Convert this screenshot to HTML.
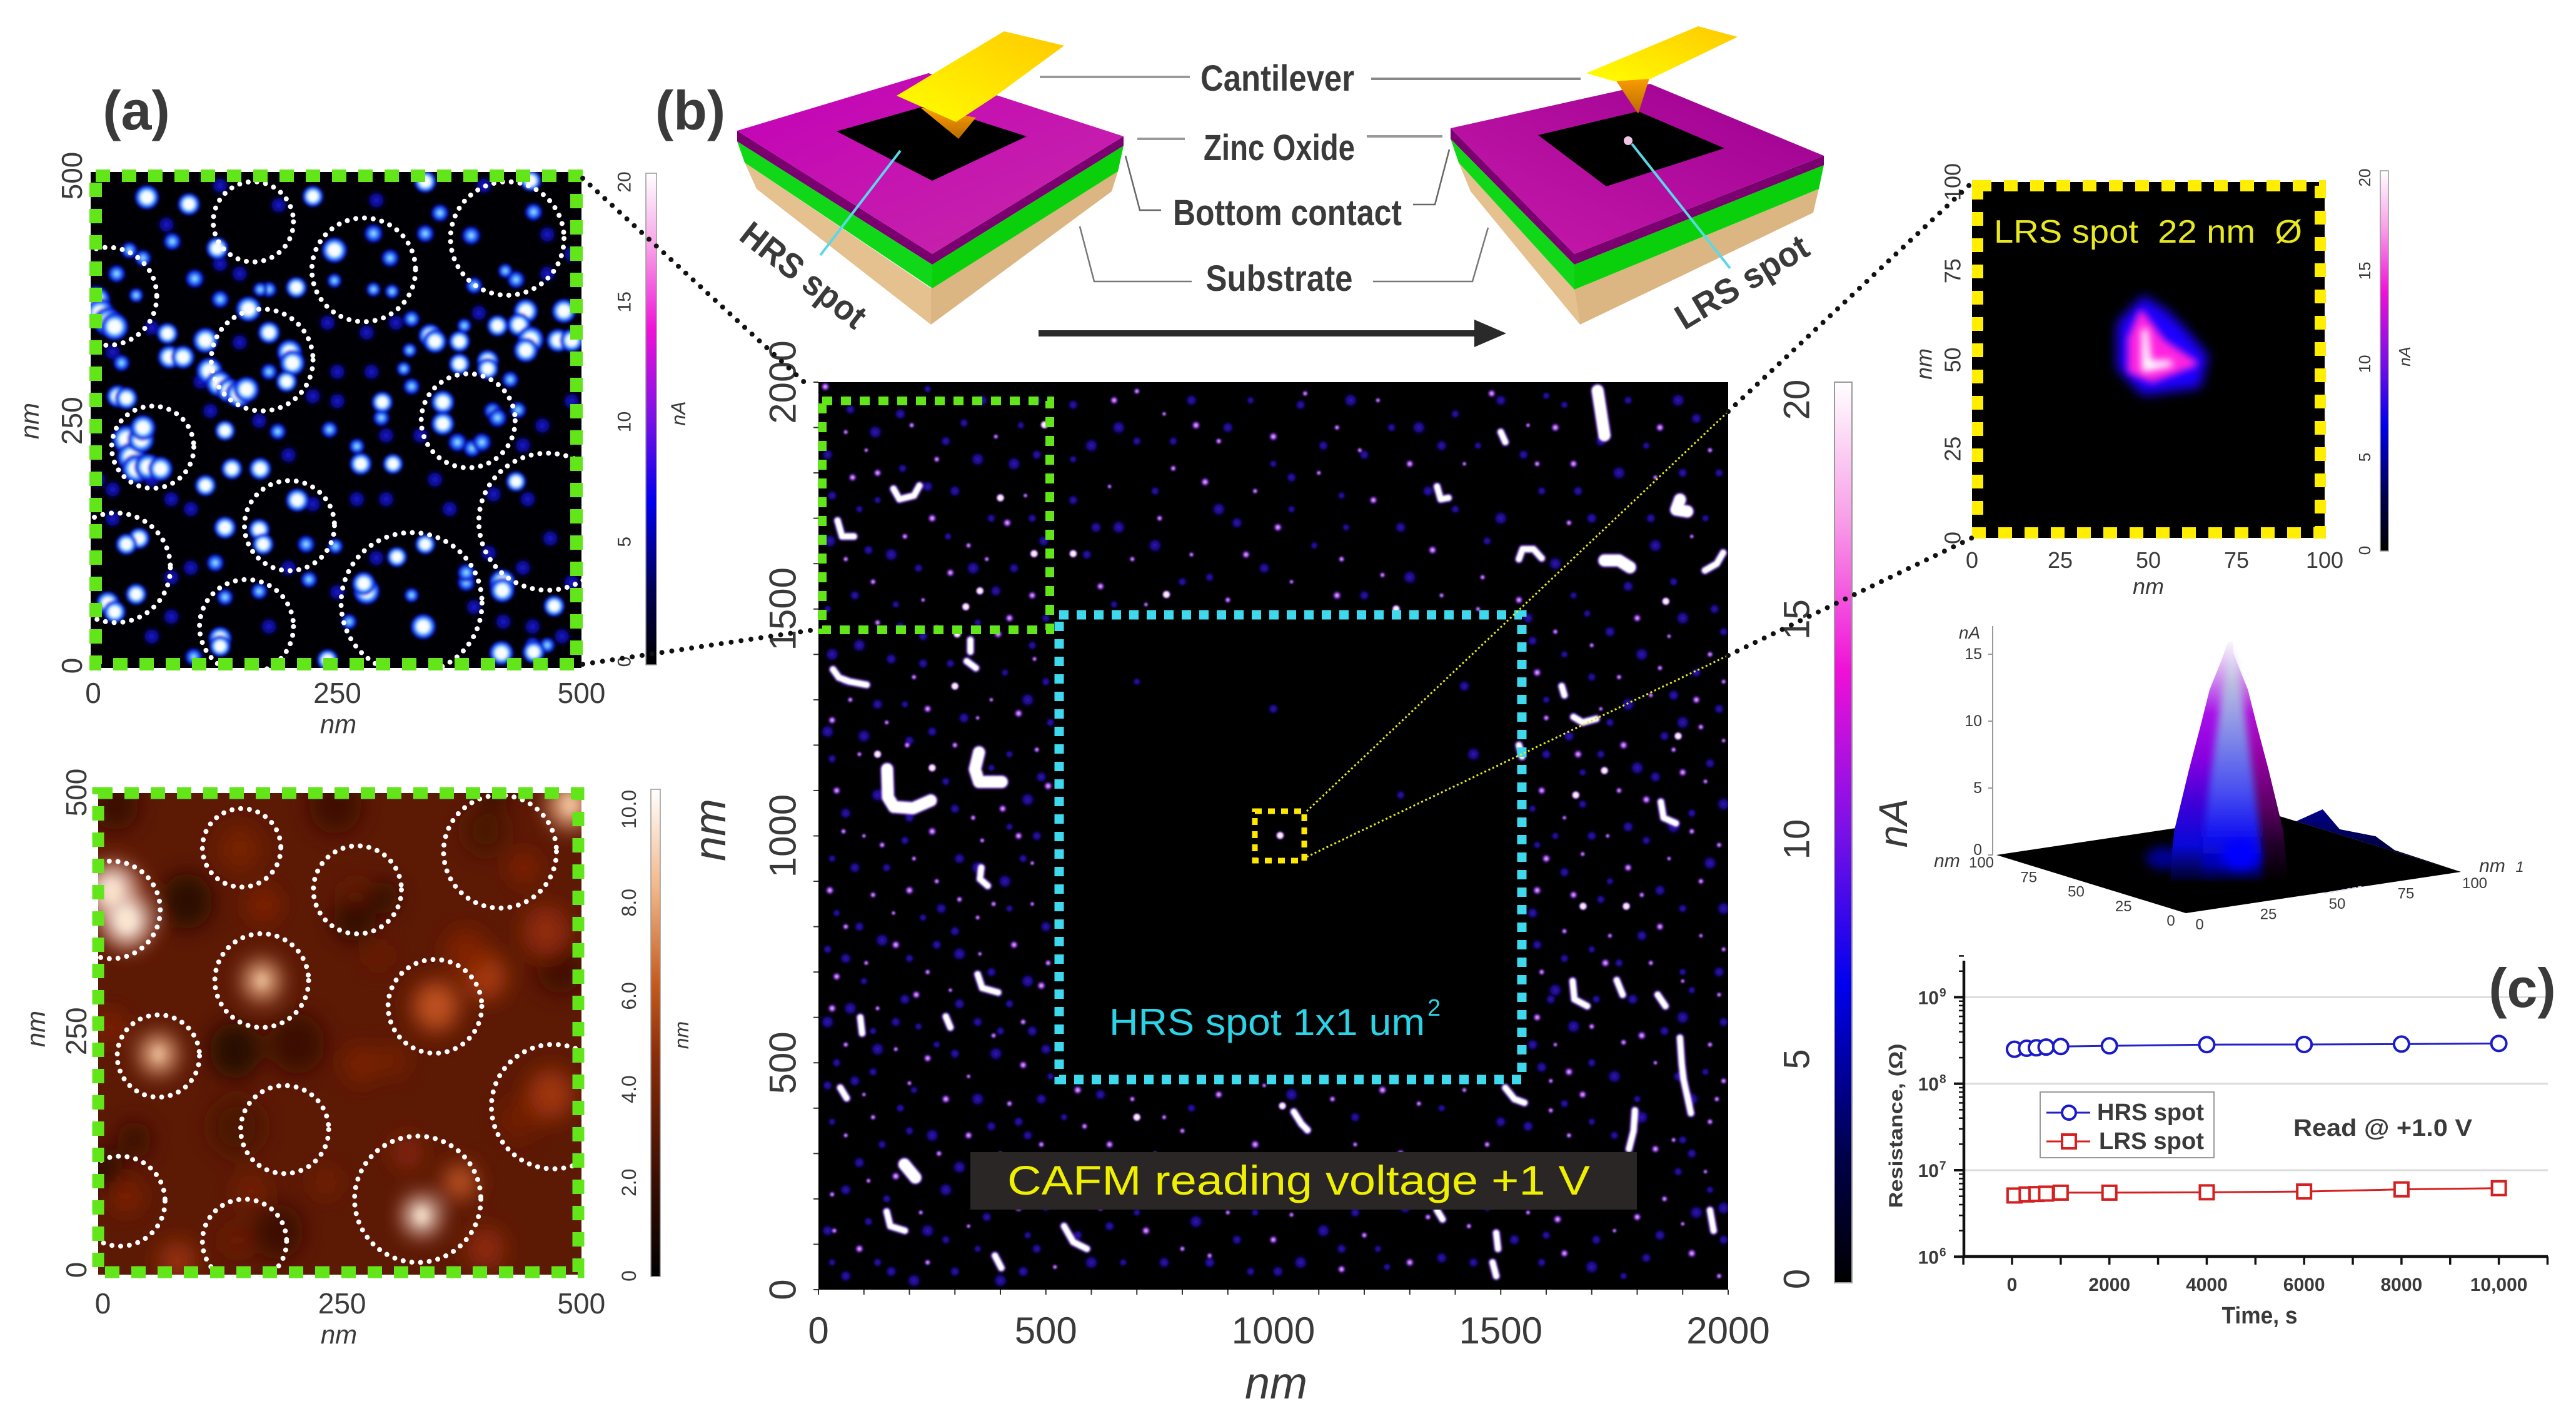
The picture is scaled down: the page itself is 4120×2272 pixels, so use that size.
<!DOCTYPE html>
<html lang="en">
<head>
<meta charset="utf-8">
<title>CAFM resistive switching figure</title>
<style>
html,body{margin:0;padding:0;background:#fff;}
body{width:4120px;height:2272px;overflow:hidden;}
svg{display:block;}
text{font-family:"Liberation Sans",sans-serif;fill:#3a3a3a;}
.it{font-style:italic;}
.bd{font-weight:bold;}
</style>
</head>
<body>
<svg id="figure" xmlns="http://www.w3.org/2000/svg" width="4120" height="2272" viewBox="0 0 4120 2272">
<defs>
<radialGradient id="spotHi"><stop offset="0" stop-color="#fff"/><stop offset=".4" stop-color="#f4fbff"/><stop offset=".58" stop-color="#48a4ff"/><stop offset=".8" stop-color="#1020e8"/><stop offset="1" stop-color="#000070" stop-opacity="0"/></radialGradient>
<radialGradient id="spotMid"><stop offset="0" stop-color="#c8ecff"/><stop offset=".32" stop-color="#3c98ff"/><stop offset=".68" stop-color="#0d18d8"/><stop offset="1" stop-color="#000060" stop-opacity="0"/></radialGradient>
<radialGradient id="spotLo"><stop offset="0" stop-color="#1818cc"/><stop offset=".6" stop-color="#0a0a88"/><stop offset="1" stop-color="#000030" stop-opacity="0"/></radialGradient>
<radialGradient id="speckHi"><stop offset="0" stop-color="#fff"/><stop offset=".55" stop-color="#fde8fd"/><stop offset=".8" stop-color="#a040e8"/><stop offset="1" stop-color="#2000a0" stop-opacity="0"/></radialGradient>
<radialGradient id="speckMid"><stop offset="0" stop-color="#fbd8fb"/><stop offset=".45" stop-color="#a040e0"/><stop offset="1" stop-color="#1800a0" stop-opacity="0"/></radialGradient>
<radialGradient id="speckLo"><stop offset="0" stop-color="#3416b8"/><stop offset=".6" stop-color="#160878"/><stop offset="1" stop-color="#0a0050" stop-opacity="0"/></radialGradient>
<linearGradient id="cbarCurrent" x1="0" y1="1" x2="0" y2="0"><stop offset="0" stop-color="#000"/><stop offset=".14" stop-color="#00004a"/><stop offset=".33" stop-color="#0000ee"/><stop offset=".5" stop-color="#7a10e8"/><stop offset=".68" stop-color="#f010d8"/><stop offset=".85" stop-color="#f8a0e8"/><stop offset="1" stop-color="#fff"/></linearGradient>
<linearGradient id="cbarTopo" x1="0" y1="1" x2="0" y2="0"><stop offset="0" stop-color="#000"/><stop offset=".2" stop-color="#3a0e02"/><stop offset=".45" stop-color="#8a2c08"/><stop offset=".6" stop-color="#c55a1c"/><stop offset=".8" stop-color="#f2b88a"/><stop offset="1" stop-color="#fff"/></linearGradient>
<linearGradient id="magentaL" x1="0" y1="0" x2="1" y2="1"><stop offset="0" stop-color="#c400b8"/><stop offset="1" stop-color="#c62aa8"/></linearGradient>
<linearGradient id="magentaR" x1="1" y1="0" x2="0" y2="1"><stop offset="0" stop-color="#9c0090"/><stop offset="1" stop-color="#c81aac"/></linearGradient>
<linearGradient id="lever" x1="0" y1="1" x2="1" y2="0"><stop offset="0" stop-color="#ffff00"/><stop offset="1" stop-color="#ffc800"/></linearGradient>
<linearGradient id="tip" x1="0" y1="0" x2="0" y2="1"><stop offset="0" stop-color="#ffa000"/><stop offset="1" stop-color="#b86a00"/></linearGradient>
<linearGradient id="peakLeft" x1="0" y1="0" x2="0" y2="1"><stop offset="0" stop-color="#fbf6fd"/><stop offset=".12" stop-color="#d8a8f0"/><stop offset=".3" stop-color="#a810e8"/><stop offset=".48" stop-color="#8a00e0"/><stop offset=".68" stop-color="#3c00d8"/><stop offset=".85" stop-color="#0808d8"/><stop offset="1" stop-color="#000020"/></linearGradient>
<linearGradient id="peakRight" x1="0" y1="0" x2="0" y2="1"><stop offset="0" stop-color="#fbf6fd"/><stop offset=".12" stop-color="#d8a8f0"/><stop offset=".3" stop-color="#b010d8"/><stop offset=".5" stop-color="#90009c"/><stop offset=".7" stop-color="#580060"/><stop offset=".85" stop-color="#200028"/><stop offset="1" stop-color="#000"/></linearGradient>
<linearGradient id="peakCore" x1="0" y1="0" x2="0" y2="1"><stop offset="0" stop-color="#fcfaff"/><stop offset=".18" stop-color="#b8bce0"/><stop offset=".4" stop-color="#8088e8"/><stop offset=".62" stop-color="#4a50f0"/><stop offset=".82" stop-color="#1010f0"/><stop offset=".93" stop-color="#0000b0"/><stop offset="1" stop-color="#000020"/></linearGradient>
<linearGradient id="bumpFill" x1="0" y1="0" x2="0" y2="1"><stop offset="0" stop-color="#00008c"/><stop offset="1" stop-color="#000010"/></linearGradient>
<filter id="blurA" x="-5%" y="-5%" width="110%" height="110%"><feGaussianBlur stdDeviation="2"/></filter>
<filter id="blurTopo" x="-10%" y="-10%" width="120%" height="120%"><feGaussianBlur stdDeviation="17"/></filter>
<filter id="blurB" x="-5%" y="-5%" width="110%" height="110%"><feGaussianBlur stdDeviation="1.2"/></filter>
<filter id="blurLrs1" x="-50%" y="-50%" width="200%" height="200%"><feGaussianBlur stdDeviation="9"/></filter>
<filter id="blurLrs2" x="-50%" y="-50%" width="200%" height="200%"><feGaussianBlur stdDeviation="6"/></filter>
<filter id="blurPeak" x="-50%" y="-50%" width="200%" height="200%"><feGaussianBlur stdDeviation="8"/></filter>
<filter id="blurCore" x="-30%" y="-5%" width="160%" height="110%"><feGaussianBlur stdDeviation="6 2"/></filter>
<clipPath id="clipA"><rect x="145" y="275" width="785" height="793"/></clipPath>
<clipPath id="clipT"><rect x="157" y="1268" width="773" height="770"/></clipPath>
<clipPath id="clipB"><rect x="1309" y="611" width="1455" height="1451"/></clipPath>
<clipPath id="clipL"><rect x="3154" y="291" width="564" height="569"/></clipPath>
</defs>

<g>
  <rect x="145" y="275" width="785" height="793" fill="#000004"/>
  <g id="aSpots" clip-path="url(#clipA)" filter="url(#blurA)"></g>
  <g id="aCircles" clip-path="url(#clipA)"></g>
  <rect x="153" y="281" width="769" height="781" fill="none" stroke="#62e61a" stroke-width="20" stroke-dasharray="23 19"/>
  <g id="aAxes"></g>
  <rect x="1033" y="277" width="17" height="786" fill="url(#cbarCurrent)" stroke="#999" stroke-width="1.5"/>
</g>

<g>
  <rect id="topoBase" x="157" y="1268" width="773" height="770" fill="#5c1904"/>
  <g id="tBlobs" clip-path="url(#clipT)"><g id="tBlobsInner" filter="url(#blurTopo)"></g></g>
  <g id="tCircles" clip-path="url(#clipT)"></g>
  <rect x="157" y="1268" width="768" height="766" fill="none" stroke="#62e61a" stroke-width="19" stroke-dasharray="23 19"/>
  <g id="tAxes"></g>
  <rect x="1041" y="1262" width="15" height="779" fill="url(#cbarTopo)" stroke="#999" stroke-width="1.5"/>
</g>

<g>
  <g>
    <polygon points="1191,260 1489,461 1489,519 1210,302" fill="#e4c18f"/>
    <polygon points="1489,461 1489,519 1778,306 1788,274" fill="#dcb682"/>
    <polygon points="1179,226 1491,423 1491,461 1191,260" fill="#10d818"/>
    <polygon points="1491,423 1797,233 1788,274 1491,461" fill="#0ad00c"/>
    <polygon points="1179,209 1491,406 1491,423 1179,226" fill="#7a0070"/>
    <polygon points="1491,406 1797,218 1797,233 1491,423" fill="#7a0070"/>
    <polygon points="1179,209 1485,117 1797,218 1491,406" fill="url(#magentaL)"/>
    <polygon points="1338,210 1485,168 1642,218 1491,289" fill="#000"/>
    <polygon points="1472,172 1561,188 1533,222" fill="url(#tip)"/>
    <polygon points="1606,50 1702,73 1593,153 1529,195 1434,153" fill="url(#lever)"/>
    <line x1="1440" y1="241" x2="1312" y2="408" stroke="#5ad8ea" stroke-width="4"/>
    <text class="bd" x="1285" y="459" font-size="56" text-anchor="middle" textLength="238" lengthAdjust="spacingAndGlyphs" transform="rotate(38 1285 440)">HRS spot</text>
  </g>
  <g>
    <polygon points="2333,260 2518,463 2527,519 2352,306" fill="#e4c18f"/>
    <polygon points="2518,463 2527,519 2900,340 2909,302" fill="#dcb682"/>
    <polygon points="2320,222 2518,423 2518,463 2333,260" fill="#10d818"/>
    <polygon points="2518,423 2917,264 2909,302 2518,463" fill="#0ad00c"/>
    <polygon points="2320,205 2518,406 2518,423 2320,222" fill="#7a0070"/>
    <polygon points="2518,406 2917,249 2917,264 2518,423" fill="#7a0070"/>
    <polygon points="2320,205 2639,134 2917,249 2518,406" fill="url(#magentaR)"/>
    <polygon points="2460,216 2620,178 2758,237 2569,298" fill="#000"/>
    <polygon points="2582,125 2639,122 2620,182" fill="url(#tip)"/>
    <polygon points="2716,42 2779,59 2640,126 2582,130 2537,117" fill="url(#lever)"/>
    <circle cx="2604" cy="225" r="7" fill="#f0c4e6"/>
    <line x1="2610" y1="230" x2="2767" y2="429" stroke="#5ad8ea" stroke-width="4"/>
    <text class="bd" x="2786" y="470" font-size="56" text-anchor="middle" textLength="238" lengthAdjust="spacingAndGlyphs" transform="rotate(-31 2786 451)">LRS spot</text>
  </g>
  <g>
    <text class="bd" x="2043" y="145" font-size="58" text-anchor="middle" textLength="246" lengthAdjust="spacingAndGlyphs">Cantilever</text>
    <text class="bd" x="2046" y="256" font-size="58" text-anchor="middle" textLength="242" lengthAdjust="spacingAndGlyphs">Zinc Oxide</text>
    <text class="bd" x="2059" y="360" font-size="58" text-anchor="middle" textLength="366" lengthAdjust="spacingAndGlyphs">Bottom contact</text>
    <text class="bd" x="2046" y="465" font-size="58" text-anchor="middle" textLength="235" lengthAdjust="spacingAndGlyphs">Substrate</text>
  </g>
  <g fill="none">
    <path d="M1663 123H1903" stroke="#999" stroke-width="4"/>
    <path d="M2193 126H2528" stroke="#888" stroke-width="4"/>
    <path d="M1819 222H1895" stroke="#999" stroke-width="4"/>
    <path d="M2186 218H2307" stroke="#999" stroke-width="4"/>
    <path d="M1800 249L1823 336H1857" stroke="#666" stroke-width="2.5"/>
    <path d="M2318 239L2295 327H2260" stroke="#666" stroke-width="2.5"/>
    <path d="M1727 362L1750 450H1906" stroke="#777" stroke-width="2.5"/>
    <path d="M2380 364L2355 450H2196" stroke="#777" stroke-width="2.5"/>
  </g>
  <path d="M1661 533H2365" stroke="#2a2a2a" stroke-width="10"/>
  <polygon points="2358,511 2409,533 2358,555" fill="#2a2a2a"/>
</g>

<g>
  <rect x="1309" y="611" width="1455" height="1451" fill="#000"/>
  <g id="bSpecks" clip-path="url(#clipB)" filter="url(#blurB)"></g>
  <rect x="1315" y="641" width="364" height="366" fill="none" stroke="#62e61a" stroke-width="14" stroke-dasharray="16 14"/>
  <rect x="1694" y="983" width="740" height="743" fill="none" stroke="#3fd9ee" stroke-width="15" stroke-dasharray="15 13"/>
  <rect x="2007" y="1297" width="79" height="79" fill="none" stroke="#ffe800" stroke-width="9" stroke-dasharray="11 10"/>
  <line x1="2090" y1="1297" x2="2764" y2="658" stroke="#e8e820" stroke-width="3" stroke-dasharray="3 4"/>
  <line x1="2090" y1="1370" x2="2764" y2="1048" stroke="#e8e820" stroke-width="3" stroke-dasharray="3 4"/>
  <text x="1774" y="1655" font-size="60" style="fill:#2ad3e6" textLength="505" lengthAdjust="spacingAndGlyphs">HRS spot 1x1 um</text>
  <text x="2283" y="1624" font-size="38" style="fill:#2ad3e6">2</text>
  <rect x="1552" y="1842" width="1066" height="92" fill="#2b2626"/>
  <text x="1611" y="1910" font-size="66" style="fill:#eef000" textLength="932" lengthAdjust="spacingAndGlyphs">CAFM reading voltage +1 V</text>
  <g id="bAxes"></g>
  <rect x="2934" y="611" width="28" height="1440" fill="url(#cbarCurrent)" stroke="#999" stroke-width="2"/>
</g>

<g>
  <rect x="3154" y="291" width="564" height="569" fill="#000"/>
  <g id="lSpot" clip-path="url(#clipL)"></g>
  <rect x="3163" y="297" width="548" height="555" fill="none" stroke="#ffee00" stroke-width="18" stroke-dasharray="22 20"/>
  <text x="3189" y="388" font-size="52" style="fill:#e8e820" textLength="493" lengthAdjust="spacingAndGlyphs">LRS spot&#160;&#160;22 nm&#160;&#160;Ø</text>
  <g id="lAxes"></g>
  <rect x="3807" y="273" width="13" height="608" fill="url(#cbarCurrent)" stroke="#999" stroke-width="1.5"/>
</g>

<g id="surface"></g>

<g id="chartC"></g>

<g stroke="#111" stroke-width="8" stroke-linecap="round" stroke-dasharray="0 16" fill="none">
  <line x1="932" y1="285" x2="1296" y2="620"/>
  <line x1="932" y1="1062" x2="1309" y2="1006"/>
  <line x1="2764" y1="658" x2="3154" y2="292"/>
  <line x1="2764" y1="1048" x2="3154" y2="860"/>
</g>

<text class="bd" x="218" y="207" font-size="88" text-anchor="middle">(a)</text>
<text class="bd" x="1104" y="207" font-size="88" text-anchor="middle">(b)</text>
<text class="bd" x="4034" y="1610" font-size="88" text-anchor="middle">(c)</text>
</svg>

<script>
// ---------- panel (a) current map: [x nm, y nm, current nA] ----------
const aBrightSpots=[[55,478,16],[98,471,14],[225,479,13],[340,494,14],[448,495,13],[247,424,17],[127,426,14],[159,364,17],[115,332,17],[76,339,13],[78,315,15],[92,315,15],[443,362,16],[482,362,16],[414,347,13],[436,348,15],[448,333,18],[443,322,16],[476,332,15],[490,332,15],[345,337,15],[350,331,15],[375,331,13],[375,308,13],[404,311,14],[404,303,13],[3,373,20],[7,360,20],[15,351,20],[22,346,19],[201,320,17],[204,309,17],[119,301,18],[129,288,18],[139,281,16],[149,277,18],[157,282,17],[180,340,14],[198,290,13],[358,269,15],[358,247,15],[296,269,13],[25,275,14],[34,273,14],[34,231,20],[39,213,20],[44,201,20],[56,203,18],[69,201,16],[49,231,18],[51,243,17],[142,201,13],[171,201,14],[274,206,14],[307,206,12],[209,169,15],[135,141,14],[170,139,13],[174,124,13],[47,130,13],[34,124,13],[311,111,12],[340,124,12],[419,85,18],[419,77,16],[280,76,18],[277,84,15],[44,73,13],[15,64,15],[22,55,14],[338,40,17],[418,13,16],[451,14,14],[472,61,13],[130,28,15],[130,20,13],[240,6,13],[115,184,13],[433,188,12],[208,386,13],[135,240,12]];
const aMidSpots=[[355,462,10],[340,441,10],[287,441,11],[304,416,10],[451,463,10],[433,394,10],[390,388,9],[387,439,11],[81,433,10],[37,424,9],[51,416,9],[24,400,10],[104,395,11],[130,374,10],[326,354,9],[180,384,8],[180,300,9],[427,292,9],[326,285,9],[295,253,9],[409,260,10],[414,253,11],[435,261,9],[373,228,11],[388,222,10],[398,228,11],[189,239,9],[242,241,9],[270,224,8],[218,124,10],[248,122,8],[382,85,10],[382,95,10],[125,105,10],[221,88,9],[170,76,9],[135,70,9],[262,45,8],[103,9,10],[326,72,7],[450,21,8],[465,21,8],[287,384,7],[306,382,7],[247,393,7],[422,403,7],[44,378,7],[171,384,7],[318,303,7],[324,322,7],[380,347,7],[29,309,9]];
const aDimSpots=[[75,450],[130,490],[190,470],[290,475],[400,490],[150,400],[130,410],[240,350],[280,340],[310,350],[395,360],[465,400],[490,420],[465,440],[60,345],[110,290],[150,330],[20,320],[250,300],[285,300],[225,275],[250,270],[335,235],[300,235],[225,165],[270,170],[300,170],[410,175],[365,160],[445,170],[468,130],[100,160],[60,190],[80,170],[20,180],[5,190],[20,150],[80,90],[100,100],[80,50],[60,30],[180,40],[200,100],[250,75],[290,110],[390,60],[420,45],[450,40],[480,30],[490,85],[405,115],[440,100],[350,190],[460,245],[490,270],[440,225],[120,260],[170,250],[200,215]];
// ---------- panel (a) grain outlines: [x nm, y nm, radius nm] ----------
const aCircleData=[[164,453,41],[277,404,53],[424,436,58],[15,377,50],[173,312,52],[384,250,48],[61,223,42],[201,143,46],[465,147,70],[326,64,72],[157,40,48],[23,100,56]];
const xTicks500=[0,250,500];
const yTicks500=[0,250,500];
const cbarCurrentTicks=[0,5,10,15,20];

// ---------- topography: [x nm, y nm, radius nm, height nm] ----------
const topoBlobs=[[88,386,24,1.5],[138,230,24,1.3],[203,237,26,2],[263,368,20,1.7],[293,390,14,1.7],[33,136,16,2],[13,487,22,2],[243,487,25,2.2],[478,316,22,2.2],[183,40,24,2.1],[408,500,14,2],[0,105,18,1.6],[400,460,20,2.4],[140,150,25,2.5],
[348,276,24,6.2],[373,92,16,6.4],[468,184,22,5.2],[463,355,22,4.8],[143,441,20,4],[168,382,15,4.4],[263,395,10,3.4],[25,77,14,4.4],[140,31,12,3.7],[78,9,18,5],[400,307,20,5.4],[440,421,14,4.4],[270,215,16,4.2],[303,219,13,4],[233,92,12,4],[318,123,14,4.6],[288,329,10,3.7],[155,83,14,4],[435,158,18,3.8],[400,22,18,4.8],[8,254,14,4.4],[380,333,20,4.4],
[10,395,24,10],[25,366,22,10],[58,226,17,8.6],[166,303,17,8.6],[333,57,16,10],[488,487,20,8.6]];
const cbarTopoTicks=["0","2.0","4.0","6.0","8.0","10.0"];
const cbarTopoValues=[0,2,4,6,8,10];
const tCircleData=[[145,442,41],[266,398,46],[415,438,59],[9,377,51],[166,303,49],[347,276,49],[58,224,43],[190,147,46],[471,171,65],[329,74,66],[148,30,44],[18,72,47]];

// ---------- panel (b) large map: white clusters [[x nm, y nm], ...] with stroke class ----------
const bThickClusters=[
[[151,1147],[153,1085],[166,1064],[208,1061],[247,1078]],
[[353,1184],[344,1147],[353,1119],[403,1119]],
[[1713,1981],[1720,1936],[1728,1883]],
[[1894,1741],[1886,1719],[1910,1715]],
[[1728,1607],[1760,1607],[1784,1592]],
[[189,276],[213,247]]
];
const bThinClusters=[
[[32,1367],[45,1349],[69,1340],[106,1333]],
[[334,1432],[334,1406]],
[[326,1385],[346,1370]],
[[1540,1610],[1548,1632],[1572,1632],[1590,1612]],
[[1949,1585],[1975,1600],[1989,1624]],
[[1660,1262],[1680,1250],[1710,1258]],
[[1634,1330],[1640,1310]],
[[1540,1200],[1547,1175]],
[[1658,680],[1662,640],[1690,625]],
[[1894,555],[1898,497],[1902,463],[1918,389]],
[[1510,445],[1530,420],[1552,412]],
[[1795,395],[1792,350],[1782,310]],
[[1852,1075],[1858,1040],[1885,1028]],
[[1960,175],[1968,130]],
[[1490,125],[1494,90]],
[[1482,60],[1490,30]],
[[150,172],[158,140],[190,130]],
[[540,140],[560,105],[590,90]],
[[388,75],[402,48]],
[[165,1765],[178,1742],[210,1750],[222,1772]],
[[42,1695],[52,1660],[78,1660]],
[[358,930],[355,905],[372,890]],
[[350,695],[360,665],[395,655]],
[[92,600],[96,565]],
[[280,602],[290,578]],
[[48,445],[62,422]],
[[1755,682],[1768,650]],
[[1845,650],[1862,625]],
[[1045,392],[1062,365],[1075,352]],
[[1360,1770],[1368,1742],[1385,1745]],
[[1500,1890],[1510,1868]],
[[1360,175],[1372,155]]
];
const bBrightSpecks=[[1015,1001],[1728,1144],[130,1180],[250,1150],[1270,1500],[400,1745],[355,1540],[324,1505],[497,1906],[474,1622],[560,1622],[765,1532],[1863,1517],[1681,845],[1776,845],[1665,1090],[1020,405],[1890,1220],[700,380],[300,1330],[305,1445]];
const bMidSpecks=[[60,1890],[130,1800],[105,1850],[260,1830],[250,1700],[330,1640],[370,1610],[290,1580],[230,1520],[120,1560],[420,1480],[70,1300],[150,1250],[240,1280],[380,1300],[300,1200],[440,1270],[480,1190],[90,1180],[40,1100],[100,1000],[140,980],[250,1010],[340,1040],[360,990],[440,1000],[470,940],[120,870],[200,880],[260,900],[350,820],[430,760],[470,850],[60,800],[170,760],[240,700],[130,620],[40,690],[290,660],[450,590],[490,670],[60,540],[170,530],[240,510],[330,470],[420,410],[280,420],[120,380],[60,340],[330,340],[400,300],[490,320],[570,440],[690,420],[760,380],[880,430],[980,450],[1130,420],[1240,440],[1320,410],[1420,440],[640,320],[740,300],[830,260],[960,320],[1050,280],[1180,320],[1280,300],[1400,280],[1470,320],[1560,290],[1650,340],[1720,280],[1840,310],[1950,260],[620,180],[720,130],[800,90],[900,170],[1000,110],[1100,190],[1200,120],[1300,60],[1430,140],[1560,170],[1640,80],[1750,130],[1860,200],[1920,80],[1980,30],[520,50],[440,180],[330,140],[240,60],[90,90],[30,210],[110,240],[650,1960],[760,1930],[880,1870],[1000,1880],[1140,1900],[1230,1960],[1300,1820],[640,1770],[750,1700],[850,1780],[960,1760],[1100,1800],[1220,1740],[1420,1820],[1580,1820],[1620,1900],[690,1610],[820,1620],[940,1620],[1040,1560],[1150,1610],[1350,1630],[1460,1570],[1450,1500],[620,1550],[720,1510],[900,1520],[1140,1530],[1620,1450],[1700,1420],[1800,1480],[1870,1440],[1960,1400],[1580,1360],[1760,1350],[1830,1310],[1930,1300],[1990,1210],[1600,1260],[1770,1200],[1880,1190],[1950,1120],[1590,1100],[1640,1040],[1760,1100],[1820,1080],[1980,980],[1680,960],[1780,930],[1870,950],[1940,900],[1580,880],[1640,790],[1740,780],[1850,800],[1940,780],[1590,700],[1730,720],[1830,720],[1980,650],[1580,600],[1620,540],[1700,580],[1810,560],[1960,540],[1610,460],[1680,430],[1840,500],[1990,460],
[15,1990],[205,1905],[390,1880],[75,1790],[455,1750],[190,1660],[415,1690],[60,1610],[260,1460],[470,1530],[20,1450],[130,1470],[395,1445],[210,1350],[475,1390],[30,1255],[350,1260],[195,1200],[505,1110],[55,1010],[210,950],[405,1060],[165,830],[310,860],[25,880],[385,850],[105,720],[215,650],[355,740],[505,720],[30,620],[385,560],[200,455],[450,495],[100,430],[265,300],[170,250],[35,130],[225,170],[360,215],[470,230],[585,360],[665,215],[800,350],[930,240],[1075,350],[1210,240],[1340,160],[1485,245],[1610,395],[1705,210],[1800,160],[1900,145],[1960,370],[1625,155],[860,75],[1040,165],[1150,45],[560,210],[700,1980],[830,1905],[1070,1975],[1190,1850],[1480,1975],[1560,1905],[1650,1690],[1850,1900],[1960,1850],[1840,1790],[1660,1820],[1920,1660],[780,1810],[1010,1680],[1240,1575],[1370,1530],[1540,1520],[1720,1280],[1940,1240],[1670,1180],[1850,1370],[1990,1340],[1900,1140],[1735,1000],[1920,1010],[1600,950],[1810,870],[1990,750],[1660,870],[1900,680],[1770,545],[1650,480],[1975,420],[1880,330]];
const bDimSpecks=[[25,1960],[180,1930],[320,1910],[430,1820],[30,1750],[90,1720],[300,1760],[470,1700],[160,1620],[430,1590],[20,1500],[180,1460],[470,1420],[30,1400],[230,1380],[410,1360],[130,1290],[500,1340],[20,1230],[200,1210],[420,1180],[60,1050],[280,1120],[460,1080],[200,1040],[30,950],[310,950],[150,930],[410,900],[90,800],[230,820],[500,800],[20,750],[310,740],[380,700],[100,680],[190,640],[420,630],[20,590],[350,590],[220,580],[500,530],[120,480],[390,520],[20,450],[210,440],[490,420],[140,320],[250,340],[440,370],[540,380],[620,430],[820,400],[1040,430],[1180,380],[1370,400],[1500,370],[590,280],[700,240],[880,290],[1000,220],[1120,250],[1230,220],[1340,240],[1500,230],[1610,240],[1780,220],[1900,330],[1990,180],[570,120],[670,60],[860,60],[950,40],[1060,60],[1150,90],[1250,50],[1370,70],[1590,60],[1700,50],[1820,70],[30,60],[160,40],[280,110],[400,20],[480,90],[1600,1970],[1500,1960],[1400,1930],[1320,1900],[1060,1950],[950,1960],[820,1960],[700,1870],[600,1860],[1200,1840],[1040,1720],[920,1690],[800,1560],[660,1680],[560,1740],[1160,1680],[1280,1680],[1400,1720],[1500,1700],[1670,1760],[1820,1860],[1930,1920],[1980,1800],[1840,1640],[1970,1500],[1660,1530],[1560,1480],[1740,1250],[1900,1250],[1600,1180],[1680,1140],[1840,1130],[1920,1050],[1990,1070],[1700,1000],[1580,980],[1850,880],[1720,860],[1990,840],[1610,640],[1900,700],[1790,640],[1700,500],[1920,420],[1990,590],[1800,420],[1570,540],[1640,730],[1900,600],[1000,1280],[700,1340],[1420,1330],[1280,1090],[1440,1180],
[70,1940],[240,1985],[360,1960],[480,1960],[125,1890],[280,1870],[445,1905],[20,1840],[185,1810],[350,1830],[480,1840],[130,1740],[240,1770],[380,1700],[25,1650],[110,1630],[285,1660],[495,1650],[220,1590],[340,1590],[80,1530],[170,1510],[390,1540],[500,1480],[90,1420],[230,1440],[350,1470],[160,1390],[290,1380],[460,1300],[60,1340],[190,1290],[320,1260],[510,1250],[100,1220],[250,1230],[380,1150],[490,1130],[30,1170],[130,1090],[300,1060],[420,1020],[80,930],[190,990],[350,930],[480,1000],[40,830],[270,840],[450,950],[140,770],[300,790],[420,840],[60,730],[200,730],[460,680],[260,760],[120,570],[310,630],[400,570],[70,620],[170,590],[260,540],[470,570],[40,500],[130,530],[300,520],[510,470],[80,460],[180,400],[350,420],[460,340],[30,370],[90,280],[200,350],[310,270],[380,360],[500,260],[60,220],[150,200],[280,220],[410,240],[500,180],[20,130],[110,150],[240,130],[370,160],[460,120],[60,30],[130,60],[210,20],[300,40],[350,90],[450,40],[540,220],[600,60],[640,140],[700,170],[760,60],[770,220],[830,150],[920,110],[960,170],[1010,40],[1040,230],[1110,130],[1180,170],[1230,90],[1290,180],[1310,280],[1380,200],[1440,60],[1470,180],[1530,110],[1600,120],[1670,200],[1710,110],[1770,30],[1850,120],[1890,260],[1930,170],[1990,110],[1960,220],[1640,290],[1750,340],[1810,380],[1920,300],[1700,370],[1560,360],[1640,410],[1750,470],[1890,470],[1950,480],[1590,490],[1710,640],[1660,580],[1860,570],[1920,660],[1980,700],[1760,720],[1620,660],[1580,760],[1700,750],[1810,780],[1900,840],[1960,940],[1640,920],[1740,900],[1570,830],[1820,990],[1880,1020],[1960,1160],[1620,1000],[1780,1020],[1680,1070],[1800,1150],[1860,1220],[1570,1060],[1650,1220],[1720,1180],[1780,1290],[1980,1280],[1600,1300],[1880,1310],[1700,1350],[1810,1400],[1930,1360],[1640,1400],[1740,1450],[1990,1450],[1900,1480],[1570,1430],[1690,1490],[1780,1550],[1880,1560],[1620,1600],[1830,1700],[1950,1700],[1700,1700],[1590,1760],[1760,1800],[1900,1800],[1640,1950],[1720,1870],[1780,1960],[1890,1960],[1550,1840],[1450,1860],[1370,1860],[1260,1900],[1170,1960],[1110,1860],[1000,1820],[900,1900],[780,1870],[660,1900],[560,1950],[560,1830],[610,1680],[740,1760],[880,1720],[1040,1790],[1150,1750],[1340,1760],[1470,1650],[1300,1570],[1200,1530],[1090,1640],[980,1590],[860,1570],[740,1640],[590,1620],[650,1510]];
const bMidSizes=[5,7.5,4.5,6,8,5.5];
const bDimSizes=[7,10,8,12,9];

// ---------- panel LRS zoom: outline points [x nm, y nm] per current level ----------
const lrsOuter=[[48.7,67],[55,63],[60,58],[66,51],[64,43],[48.7,41],[42,48],[42,60]];
const lrsMiddle=[[48,63],[54,55],[63,49],[51,44.5],[45,47],[45,56]];
const lrsCore=[[49,58],[50,49],[56,49],[49,47.5]];
const xTicks100=[0,25,50,75,100];
const yTicks100=[0,25,50,75,100];

// ---------- 3D surface ----------
const zTicks=[0,5,10,15];
const floorTicks=[0,25,50,75,100];
const peakZ=[16,14.6,12.4,9.9,6.4,1.9,0,-1.9];
const peakHalfWidth=[0,2.5,6.9,10,14.6,20,21,21.5];
const peakCentreA=[56];
const peakCentreB=[59];
const bumpB=[100,87,73,64,45,35,0];
const bumpZ=[0,0,1.5,.4,.7,.1,0];

// ---------- panel (c) ----------
const timeValues=[50,300,500,700,1000,2000,4000,6000,8000,10000];
const hrsValues=[2.5e8,2.57e8,2.6e8,2.65e8,2.69e8,2.74e8,2.83e8,2.84e8,2.87e8,2.92e8];
const lrsValues=[5.1e6,5.24e6,5.3e6,5.36e6,5.5e6,5.5e6,5.55e6,5.67e6,6.0e6,6.2e6];
const timeTickValues=[0,2000,4000,6000,8000,10000];
const timeTickLabels=["0","2000","4000","6000","8000","10,000"];
const decadeExponents=[6,7,8,9];

const NS='http://www.w3.org/2000/svg';
function mk(parent,tag,props,txt){
  const e=document.createElementNS(NS,tag);
  for(const k in props)e.setAttribute(k,props[k]);
  if(txt!==undefined)e.textContent=txt;
  parent.appendChild(e);
  return e;
}
function $(id){return document.getElementById(id);}

// axis functions
const aX=v=>149+v*1.562, aY=v=>1064.5-v*1.567;
const tX=v=>164.5+v*1.5306, tY=v=>2030.5-v*1.527;
const bX=v=>1309+v*.7275, bY=v=>2062-v*.7255;
const lX=v=>3154+v*5.64, lY=v=>860-v*5.69;
const cbA=v=>1058-v*38.35, cbT=v=>2040-v*74.6, cbB=v=>2045-v*70.3, cbL=v=>880-v*29.8;

function rotLabel(g,x,y,str,size,cls){
  const t=mk(g,'text',{x:x,y:y,'font-size':size,'text-anchor':'middle','dominant-baseline':'central',transform:'rotate(-90 '+x+' '+y+')','class':cls||''},str);
  return t;
}
function axesFor(g,xTicks,yTicks,xFn,yFn,yLabelX,xBase,fs,titleX,titleY,titleYX,titleYY,titleSize){
  xTicks.forEach(v=>{
    const t=mk(g,'text',{x:xFn(v),y:xBase,'font-size':fs,'text-anchor':'middle'},String(v));
    
    
  });
  yTicks.forEach(v=>{
    const t=rotLabel(g,yLabelX,yFn(v),String(v),fs);
    
    
  });
  const xt=mk(g,'text',{x:titleX,y:titleY,'font-size':titleSize,'text-anchor':'middle','class':'it'},'nm');
  
  
  if(titleYX>0){
    const yt=rotLabel(g,titleYX,titleYY,'nm',titleSize,'it');
    
    
  }
}
function cbarLabels(g,vals,labels,fn,x,fs){
  vals.forEach((v,i)=>{
    const t=rotLabel(g,x,fn(v),labels[i],fs);
    
    
  });
}

// ---- panel a spots ----
function aSpot(d,grad,k){
  const c=mk($('aSpots'),'circle',{cx:aX(d[0]),cy:aY(d[1]),r:k,fill:'url(#'+grad+')'});
  
  
}
aDimSpots.forEach(d=>aSpot(d,'spotLo',16));
aMidSpots.forEach(d=>aSpot(d,'spotMid',7+d[2]*.95));
aBrightSpots.forEach(d=>aSpot(d,'spotHi',7+d[2]*.9));
aCircleData.forEach(d=>{
  const c=mk($('aCircles'),'circle',{cx:aX(d[0]),cy:aY(d[1]),r:d[2]*1.565,fill:'none',stroke:'#fff','stroke-width':8,'stroke-linecap':'round','stroke-dasharray':'0 14'});
  
  
});
axesFor($('aAxes'),xTicks500,yTicks500,aX,aY,115,1124,46,541,1172,47,673,42);
cbarLabels($('aAxes'),cbarCurrentTicks,cbarCurrentTicks.map(String),cbA,999,30);
const aCb=rotLabel($('aAxes'),1085,661,'nA',32,'it');



// ---- topography ----
const hStops=[[0,[0,0,0]],[2,[58,14,2]],[3,[92,25,4]],[4.5,[132,36,6]],[6,[190,72,24]],[8,[242,168,112]],[10,[255,248,236]]];
function heightColor(h){
  for(let i=1;i<hStops.length;i++){
    if(h<=hStops[i][0]){
      const a=hStops[i-1],b=hStops[i],t=(h-a[0])/(b[0]-a[0]);
      return 'rgb('+a[1].map((c,j)=>Math.round(c+(b[1][j]-c)*t)).join(',')+')';
    }
  }
  return 'rgb(255,255,255)';
}
function topoEllipse(d,radiusScale,level){
  const e=mk($('tBlobsInner'),'ellipse',{cx:tX(d[0]),cy:tY(d[1]),rx:d[2]*1.53*radiusScale,ry:d[2]*1.53*radiusScale*1.1,fill:heightColor(level)});
  
  
}
topoBlobs.forEach(d=>{
  if(d[3]>=6){
    topoEllipse(d,1.25,d[3]*.6);
    topoEllipse(d,.85,d[3]);
  }else{
    topoEllipse(d,1.1,d[3]);
  }
});
topoBlobs.filter(d=>d[3]>=8).forEach(d=>{
  const e=mk($('tBlobs'),'ellipse',{cx:tX(d[0]),cy:tY(d[1]),rx:d[2]*.55,ry:d[2]*.75,fill:'#ffe6c8','fill-opacity':d[3]>=10?.6:.3,filter:'url(#blurLrs2)'});
  
  
});
tCircleData.forEach(d=>{
  const c=mk($('tCircles'),'circle',{cx:tX(d[0]),cy:tY(d[1]),r:d[2]*1.53,fill:'none',stroke:'#fff','stroke-width':8,'stroke-linecap':'round','stroke-dasharray':'0 14'});
  
  
});
axesFor($('tAxes'),xTicks500,yTicks500,tX,tY,122,2100,46,542,2148,57,1645,42);
cbarLabels($('tAxes'),cbarTopoValues,cbarTopoTicks,cbT,1006,32);
const tCb=rotLabel($('tAxes'),1090,1655,'nm',32,'it');


const tBig=rotLabel($('tAxes'),1136,1327,'nm',72,'it');



// ---- panel b ----
function bSpeck(d,grad,r){
  const c=mk($('bSpecks'),'circle',{cx:bX(d[0]),cy:bY(d[1]),r:r,fill:'url(#'+grad+')'});
  
  
}
function bCluster(pts,width){
  const pstr=pts.map(p=>bX(p[0])+','+bY(p[1])).join(' ');
  const h=mk($('bSpecks'),'polyline',{points:pstr,fill:'none',stroke:'#7a28e0','stroke-width':width+6,'stroke-linecap':'round','stroke-linejoin':'round','stroke-opacity':.7});
  
  
  const w=mk($('bSpecks'),'polyline',{points:pstr,fill:'none',stroke:'#fff','stroke-width':width,'stroke-linecap':'round','stroke-linejoin':'round'});
  
  
}
bDimSpecks.forEach((d,i)=>bSpeck(d,'speckLo',bDimSizes[i%bDimSizes.length]));
bMidSpecks.forEach((d,i)=>bSpeck(d,'speckMid',bMidSizes[i%bMidSizes.length]));
bBrightSpecks.forEach(d=>bSpeck(d,'speckHi',7));
bThinClusters.forEach(p=>bCluster(p,9));
bThickClusters.forEach(p=>bCluster(p,18));
const bTickVals=[0,500,1000,1500,2000];
axesFor($('bAxes'),bTickVals,bTickVals,bX,bY,1252,2148,60,2041,2236,0,0,72);
for(let v=0;v<=2000;v+=100){
  const tx=mk($('bAxes'),'line',{x1:bX(v),x2:bX(v),y1:2062,y2:2070,stroke:'#333','stroke-width':2});
  
  
  const ty=mk($('bAxes'),'line',{x1:1309,x2:1301,y1:bY(v),y2:bY(v),stroke:'#333','stroke-width':2});
  
  
}
cbarLabels($('bAxes'),cbarCurrentTicks,cbarCurrentTicks.map(String),cbB,2874,58);
const bCb=rotLabel($('bAxes'),3028,1316,'nA',64,'it');



// ---- LRS zoom ----
function lrsShape(arr,fill,filt,name){
  const p=mk($('lSpot'),'polygon',{points:arr.map(d=>lX(d[0])+','+lY(d[1])).join(' '),fill:fill,stroke:fill,'stroke-width':10,'stroke-linejoin':'round',filter:'url(#'+filt+')'});
  
  
}
lrsShape(lrsOuter,'#1a00ff','blurLrs1','lrs-spot-outer');
lrsShape(lrsMiddle,'#ff20e0','blurLrs2','lrs-spot-middle');
lrsShape(lrsCore,'#ffffff','blurLrs2','lrs-spot-core');
axesFor($('lAxes'),xTicks100,yTicks100,lX,lY,3123,908,36,3436,950,3077,582,36);
cbarLabels($('lAxes'),cbarCurrentTicks,cbarCurrentTicks.map(String),cbL,3782,26);
const lCb=rotLabel($('lAxes'),3846,570,'nA',26,'it');



// ---- 3D surface ----
const S=$('surface');
const pX=(a,b)=>3496+4.4*a-3.03*b;
const pY=(a,b,z)=>1460-.66*a-.93*b-21.4*z;
const bumpPts=bumpB.map((b,i)=>pX(100,b)+','+pY(100,b,bumpZ[i])).join(' ');
const bump=mk(S,'polygon',{points:bumpPts,fill:'url(#bumpFill)'});


const floorPoly=mk(S,'polygon',{points:[[0,0],[100,0],[100,100],[0,100]].map(d=>pX(d[0],d[1])+','+pY(d[0],d[1],0)).join(' '),fill:'#000'});


const cx0=pX(peakCentreA[0],peakCentreB[0]);
const peakY=z=>pY(peakCentreA[0],peakCentreB[0],z);
function peakSide(sign,scale,shift){
  return peakZ.map((z,i)=>(cx0+shift+sign*peakHalfWidth[i]*4.3*scale)+','+peakY(z));
}
const halo=mk(S,'ellipse',{cx:3462,cy:1372,rx:30,ry:18,fill:'#000090',filter:'url(#blurPeak)'});


const baseMid=(cx0+8)+','+peakY(-1.9);
const leftBand=mk(S,'polygon',{points:peakSide(-1,1,0).join(' ')+' '+baseMid+' '+(cx0+8)+','+peakY(16),fill:'url(#peakLeft)'});


const rightBand=mk(S,'polygon',{points:peakSide(1,1,2).join(' ')+' '+baseMid+' '+(cx0+8)+','+peakY(16),fill:'url(#peakRight)'});


const corePts=peakSide(-1,.52,6).concat(peakSide(1,.52,6).reverse()).join(' ');
const core=mk(S,'polygon',{points:corePts,fill:'url(#peakCore)',filter:'url(#blurCore)'});


const hot=mk(S,'ellipse',{cx:3583,cy:1366,rx:30,ry:24,fill:'#0000ff',filter:'url(#blurPeak)'});


const foot=mk(S,'line',{x1:3718,y1:1428,x2:3779,y2:1417,stroke:'#cfd4e8','stroke-width':2,'stroke-dasharray':'6 3'});


const zAxis=mk(S,'line',{x1:3187,y1:1001,x2:3187,y2:1367,stroke:'#999','stroke-width':2});


const zY=v=>1367-v*21.4;
zTicks.forEach(v=>{
  const tk=mk(S,'line',{x1:3180,x2:3187,y1:zY(v),y2:zY(v),stroke:'#999','stroke-width':2});
  
  
  const t=mk(S,'text',{x:3170,y:zY(v)+(v===0?0:8),'font-size':25,'text-anchor':'end'},String(v));
  
  
});
floorTicks.forEach(v=>{
  const t1=mk(S,'text',{x:pX(0,v)-24,y:pY(0,v,0)+20,'font-size':24,'text-anchor':'middle'},String(v));
  
  
  const t2=mk(S,'text',{x:pX(v,0)+22,y:pY(v,0,0)+26,'font-size':24,'text-anchor':'middle'},String(v));
  
  
});
const zT=mk(S,'text',{x:3150,y:1021,'font-size':28,'text-anchor':'middle','class':'it'},'nA');


const lT=mk(S,'text',{x:3114,y:1386,'font-size':30,'text-anchor':'middle','class':'it'},'nm');


const rT=mk(S,'text',{x:3986,y:1394,'font-size':30,'text-anchor':'middle','class':'it'},'nm');


const rS=mk(S,'text',{x:4030,y:1394,'font-size':24,'text-anchor':'middle','class':'it'},'1');



// ---- panel c ----
const C=$('chartC');
const xT=v=>3218+v*.07786;
const yR=v=>1871-(Math.log10(v)-7)*138.3;
decadeExponents.forEach(ex=>{
  const v=Math.pow(10,ex),y=yR(v);
  if(ex>6){
    const g=mk(C,'line',{x1:3141,x2:4075,y1:y,y2:y,stroke:'#dcdcdc','stroke-width':3});
    
    
  }
  const tk=mk(C,'line',{x1:3125,x2:3141,y1:y,y2:y,stroke:'#111','stroke-width':4});
  
  
  const t=mk(C,'text',{x:3101,y:y+11,'font-size':30,'text-anchor':'end','class':'bd'},'10');
  
  
  const s=mk(C,'text',{x:3102,y:y-1,'font-size':19,'class':'bd'},String(ex));
  
  
  if(ex<9){
    [2,3,4,5,6,7,8,9].forEach(m=>{
      const yy=yR(m*v);
      const mt=mk(C,'line',{x1:3133,x2:3141,y1:yy,y2:yy,stroke:'#111','stroke-width':2.5});
      
      
    });
  }
});
[2,3].forEach(m=>{
  const yy=yR(m*1e9);
  const mt=mk(C,'line',{x1:3133,x2:3141,y1:yy,y2:yy,stroke:'#111','stroke-width':2.5});
  
  
});
for(let v=-1000;v<=11000;v+=1000){
  const tk=mk(C,'line',{x1:xT(v),x2:xT(v),y1:2009,y2:2022,stroke:'#111','stroke-width':3.5});
  
  
}
const yAx=mk(C,'line',{x1:3141,x2:3141,y1:1536,y2:2011,stroke:'#111','stroke-width':4.5});


const xAx=mk(C,'line',{x1:3139,x2:4075,y1:2009,y2:2009,stroke:'#111','stroke-width':4.5});


timeTickValues.forEach((v,i)=>{
  const t=mk(C,'text',{x:xT(v),y:2064,'font-size':30,'text-anchor':'middle','class':'bd'},timeTickLabels[i]);
  
  
});
const xTitle=mk(C,'text',{x:3614,y:2116,'font-size':38,'text-anchor':'middle','class':'bd',textLength:121,lengthAdjust:'spacingAndGlyphs'},'Time, s');


const yTitle=rotLabel(C,3032,1800,'Resistance, (Ω)',31,'bd');
yTitle.setAttribute('textLength',263);
yTitle.setAttribute('lengthAdjust','spacingAndGlyphs');



const hrsLine=mk(C,'polyline',{points:timeValues.map((t,i)=>xT(t)+','+yR(hrsValues[i])).join(' '),fill:'none',stroke:'#2222c8','stroke-width':3});


const lrsLine=mk(C,'polyline',{points:timeValues.map((t,i)=>xT(t)+','+yR(lrsValues[i])).join(' '),fill:'none',stroke:'#d42020','stroke-width':3});


timeValues.forEach((t,i)=>{
  const m=mk(C,'circle',{cx:xT(t),cy:yR(hrsValues[i]),r:12,fill:'#fff',stroke:'#1a1ac8','stroke-width':4});
  
  
  const s=mk(C,'rect',{x:xT(t)-11,y:yR(lrsValues[i])-11,width:22,height:22,fill:'#fff',stroke:'#d42020','stroke-width':4});
  
  
});
// legend
const legBox=mk(C,'rect',{x:3263,y:1746,width:278,height:105,fill:'#fff',stroke:'#999','stroke-width':2});


const legL1=mk(C,'line',{x1:3273,x2:3343,y1:1779,y2:1779,stroke:'#2222c8','stroke-width':3});


const legM1=mk(C,'circle',{cx:3309,cy:1779,r:11,fill:'#fff',stroke:'#1a1ac8','stroke-width':4});


const legT1=mk(C,'text',{x:3354,y:1791,'font-size':38,'class':'bd',textLength:171,lengthAdjust:'spacingAndGlyphs'},'HRS spot');


const legL2=mk(C,'line',{x1:3273,x2:3343,y1:1825,y2:1825,stroke:'#d42020','stroke-width':3});


const legM2=mk(C,'rect',{x:3298,y:1814,width:22,height:22,fill:'#fff',stroke:'#d42020','stroke-width':4});


const legT2=mk(C,'text',{x:3357,y:1837,'font-size':38,'class':'bd',textLength:168,lengthAdjust:'spacingAndGlyphs'},'LRS spot');


const readT=mk(C,'text',{x:3668,y:1816,'font-size':38,'class':'bd',textLength:286,lengthAdjust:'spacingAndGlyphs'},'Read @ +1.0 V');


</script>
</body>
</html>
